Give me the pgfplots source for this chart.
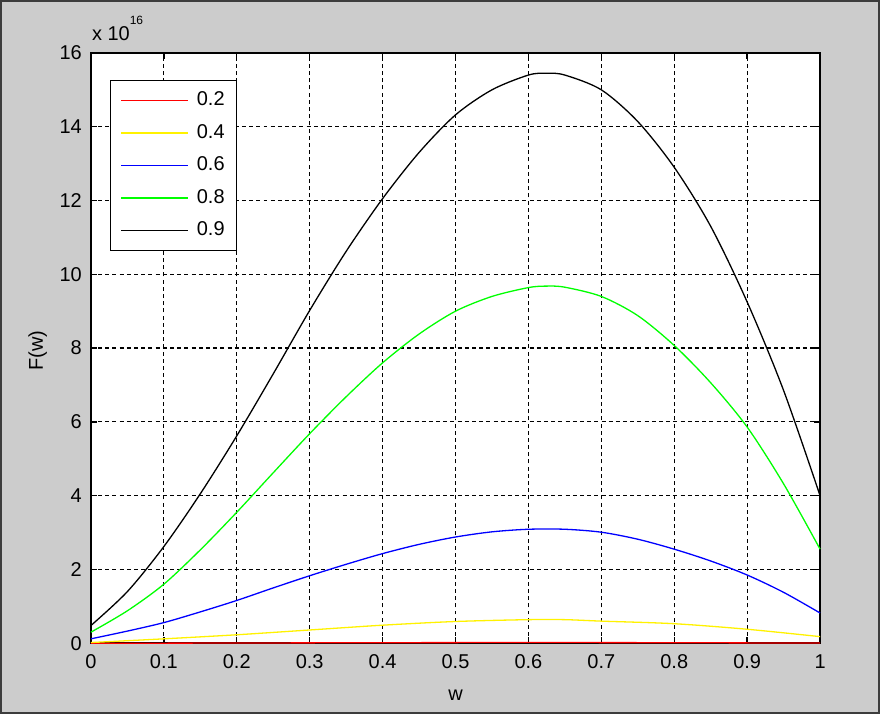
\documentclass[border=0pt]{standalone}
\usepackage{fontspec}
\setmainfont{Liberation Sans}
\usepackage{pgfplots}
\pgfplotsset{compat=1.18}
\definecolor{figbg}{RGB}{204,204,204}
\definecolor{figframe}{RGB}{60,60,60}

\begin{document}
\begin{tikzpicture}
% grey figure window behind the axes
\fill[figbg, draw=figframe, line width=1pt] (-45pt,-35pt) rectangle (394.5pt,321.5pt);
\begin{axis}[
    at={(0,0)}, anchor=south west,
    scale only axis,
    width=365pt, height=295.5pt,
    xmin=0, xmax=1, ymin=0, ymax=16,
    xtick={0,0.1,0.2,0.3,0.4,0.5,0.6,0.7,0.8,0.9,1},
    xticklabels={0,0.1,0.2,0.3,0.4,0.5,0.6,0.7,0.8,0.9,1},
    ytick={0,2,4,6,8,10,12,14,16},
    xticklabel style={yshift=-2pt},
    yticklabel style={xshift=-1pt},
    tick align=inside,
    major tick length=3pt,
    tick style={black, line width=0.7pt},
    grid=major,
    grid style={black, dash pattern=on 2pt off 1.6pt, line width=0.6pt},
    axis line style={black, line width=0.8pt},
    axis background/.style={fill=white},
    font=\fontsize{10}{12}\selectfont,
    /pgf/number format/assume math mode=true,
    xlabel={w},
    ylabel={F(w)},
    xlabel style={at={(axis description cs:0.5,-0.0964)}, anchor=base},
    ylabel style={at={(axis description cs:-0.0658,0.496)}, anchor=base},
    clip=false,
    every axis plot/.append style={line width=0.65pt, no markers, smooth},
    legend cell align=left,
    legend image code/.code={\draw[#1, line width=0.75pt] (0pt,0pt) -- (33.5pt,0pt);},
    legend style={
        at={(axis description cs:0.026,0.954)}, anchor=north west,
        draw=black, line width=0.6pt, fill=white,
        inner xsep=5pt, inner ysep=4.6pt,
        row sep=5.8pt, column sep=3pt,
        nodes={inner sep=1pt},
        font=\fontsize{10}{12}\selectfont,
    },
]
\addplot[red] table {
x y
0   0.000
0.1 0.003
0.2 0.007
0.3 0.011
0.4 0.015
0.5 0.018
0.6 0.019
0.7 0.018
0.8 0.015
0.9 0.010
1.0 0.005
};
\addlegendentry{0.2}
\addplot[yellow] table {
x y
0   0.02
0.1 0.12
0.2 0.23
0.3 0.36
0.4 0.49
0.5 0.59
0.6 0.64
0.65 0.64
0.7 0.60
0.8 0.53
0.9 0.38
1.0 0.18
};
\addlegendentry{0.4}
\addplot[blue] table {
x y
0    0.12
0.05 0.33
0.1  0.56
0.15 0.85
0.2  1.16
0.25 1.50
0.3  1.83
0.35 2.14
0.4  2.43
0.45 2.68
0.5  2.88
0.55 3.02
0.6  3.09
0.65 3.09
0.7  3.01
0.75 2.82
0.8  2.55
0.85 2.23
0.9  1.85
0.95 1.38
1.0  0.82
};
\addlegendentry{0.6}
\addplot[green] table {
x y
0     0.30
0.05  0.88
0.1   1.60
0.15  2.53
0.2   3.55
0.25  4.62
0.3   5.68
0.35  6.68
0.4   7.60
0.45  8.38
0.5   9.00
0.55  9.40
0.6   9.64
0.625 9.68
0.65  9.65
0.7   9.40
0.75  8.88
0.8   8.07
0.85  7.06
0.9   5.86
0.95  4.32
1.0   2.55
};
\addlegendentry{0.8}
\addplot[black] table {
x y
0     0.48
0.05  1.40
0.1   2.62
0.15  4.05
0.2   5.62
0.25  7.30
0.3   9.02
0.35  10.62
0.4   12.05
0.45  13.30
0.5   14.32
0.55  15.00
0.6   15.40
0.625 15.45
0.65  15.40
0.7   15.00
0.75  14.14
0.8   12.90
0.85  11.30
0.9   9.25
0.95  6.85
1.0   4.00
};
\addlegendentry{0.9}
\node[anchor=base west, inner sep=0pt] at (axis description cs:0.001,1.0203)
    {x 10\raisebox{8pt}{\fontsize{6}{7}\selectfont 16}};
\end{axis}
\end{tikzpicture}
\end{document}
